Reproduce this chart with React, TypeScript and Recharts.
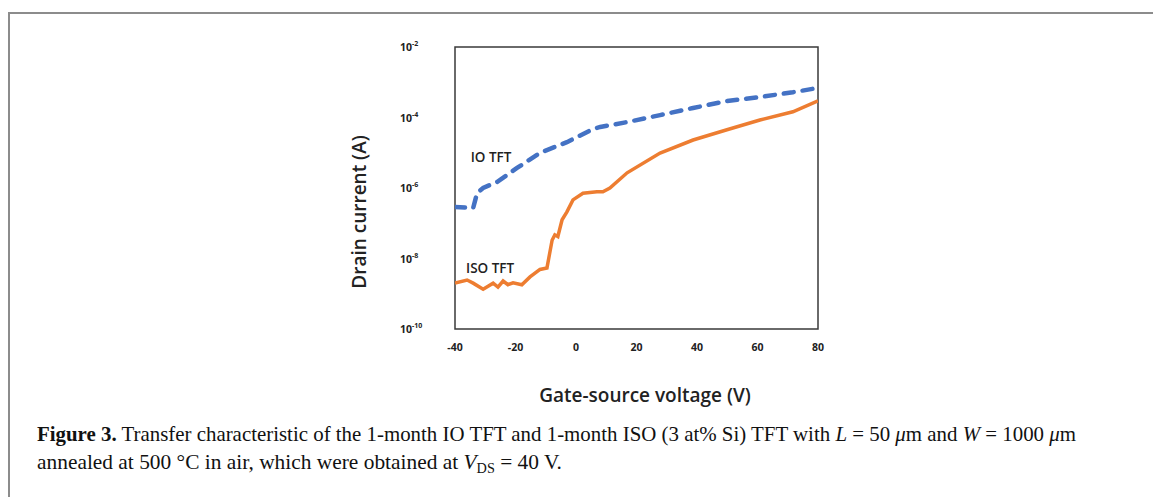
import {
  LineChart,
  Line,
  XAxis,
  YAxis,
  ReferenceArea,
  ReferenceDot,
} from 'recharts';

// gate-source voltage (V) / drain current (A)
const ioVgs = [-40, -34, -32.7, -30.7, -26, -19.5, -12, -3, 5.6, 8, 16.9, 27.8, 38.7, 50, 60.8, 71.7, 80];
const ioId = [2.9e-7, 2.7e-7, 7.2e-7, 1.0e-6, 1.5e-6, 3.7e-6, 9.8e-6, 2.0e-5, 4.7e-5, 5.4e-5, 7.4e-5, 1.17e-4, 1.86e-4, 2.95e-4, 3.8e-4, 5.2e-4, 6.9e-4];

const isoVgs = [-40, -36, -34, -30.7, -27.4, -25.8, -24.1, -22.5, -20.8, -17.9, -15.2, -11.9, -9.6, -7.9, -7, -6, -4.6, -3, -1, 2.3, 6.9, 8.9, 11.2, 16.9, 27.8, 38.7, 49.9, 60.8, 71.7, 80];
const isoId = [2.0e-9, 2.45e-9, 2.0e-9, 1.35e-9, 2.0e-9, 1.55e-9, 2.3e-9, 1.8e-9, 2.05e-9, 1.8e-9, 3.0e-9, 4.9e-9, 5.4e-9, 3.3e-8, 4.7e-8, 4.2e-8, 1.26e-7, 2.1e-7, 4.6e-7, 7.1e-7, 7.8e-7, 7.8e-7, 1.0e-6, 2.7e-6, 9.8e-6, 2.3e-5, 4.5e-5, 8.5e-5, 1.45e-4, 2.95e-4];

const xTicks = [-40, -20, 0, 20, 40, 60, 80];
const yExponents = [-10, -8, -6, -4, -2];
const yTicks = yExponents.map((e) => Math.pow(10, e));

const ioData = ioVgs.map((v, i) => ({ v, id: ioId[i] }));
const isoData = isoVgs.map((v, i) => ({ v, id: isoId[i] }));

const sans = '"Open Sans", sans-serif';
const serif = '"Liberation Serif", serif';

const YTick = ({ x, y, payload }: any) => {
  const exp = Math.round(Math.log10(payload.value));
  return (
    <text x={x - 47} y={y} dy={4} fontFamily={sans} fontWeight={700} fontSize={10.5} fill="#222">
      <tspan>10</tspan>
      <tspan dy={-5} fontSize={7}>{exp}</tspan>
    </text>
  );
};

const XTick = ({ x, y, payload }: any) => (
  <text x={x} y={y} dy={14} textAnchor="middle" fontFamily={sans} fontWeight={700} fontSize={10.5} fill="#222">
    {payload.value}
  </text>
);

export default function App() {
  return (
    <div style={{ position: 'absolute', left: 0, top: 0, width: 1153, height: 497, background: '#fff', overflow: 'hidden' }}>
      <div
        style={{
          position: 'absolute',
          left: 8,
          top: 12,
          width: 1160,
          height: 500,
          borderTop: '2px solid #8c8c8c',
          borderLeft: '2px solid #8c8c8c',
        }}
      />
      <LineChart
        width={1153}
        height={497}
        margin={{ top: 47, right: 335, bottom: 138, left: 395 }}
        style={{ position: 'absolute', left: 0, top: 0 }}
      >
        <XAxis
          dataKey="v"
          type="number"
          domain={[-40, 80]}
          ticks={xTicks}
          allowDataOverflow
          height={30}
          axisLine={false}
          tickLine={false}
          tick={<XTick />}
        />
        <YAxis
          dataKey="id"
          scale="log"
          domain={[1e-10, 1e-2]}
          ticks={yTicks}
          allowDataOverflow
          width={60}
          axisLine={false}
          tickLine={false}
          tick={<YTick />}
        />
        <ReferenceArea x1={-40} x2={80} y1={1e-10} y2={1e-2} fill="none" stroke="#3a3a3a" strokeWidth={1.5} />
        <Line
          data={isoData}
          dataKey="id"
          type="linear"
          stroke="#ED7D31"
          strokeWidth={3.5}
          dot={false}
          isAnimationActive={false}
        />
        <Line
          data={ioData}
          dataKey="id"
          type="linear"
          stroke="#4472C4"
          strokeWidth={4.5}
          strokeDasharray="10 9"
          strokeLinecap="round"
          dot={false}
          isAnimationActive={false}
        />
        <ReferenceDot
          x={-28.1}
          y={7.6e-6}
          r={0}
          label={{ value: 'IO TFT', position: 'center', fontFamily: sans, fontWeight: 600, fontSize: 13.5, fill: '#222' }}
        />
        <ReferenceDot
          x={-28.4}
          y={5.4e-9}
          r={0}
          label={{ value: 'ISO TFT', position: 'center', fontFamily: sans, fontWeight: 600, fontSize: 13.5, fill: '#222' }}
        />
      </LineChart>
      <div
        style={{
          position: 'absolute',
          left: 359,
          top: 212,
          transform: 'translate(-50%, -50%) rotate(-90deg)',
          whiteSpace: 'nowrap',
          fontFamily: sans,
          fontWeight: 600,
          fontSize: 19,
          color: '#222',
        }}
      >
        Drain current (A)
      </div>
      <div
        style={{
          position: 'absolute',
          left: 645,
          top: 395,
          transform: 'translate(-50%, -50%)',
          whiteSpace: 'nowrap',
          fontFamily: sans,
          fontWeight: 600,
          fontSize: 19,
          color: '#222',
        }}
      >
        Gate-source voltage (V)
      </div>
      <svg width={1153} height={497} style={{ position: 'absolute', left: 0, top: 0, pointerEvents: 'none' }}>
        <text
          x={37}
          y={441}
          fontFamily={serif}
          fontSize={21}
          fill="#111"
          textLength={1039}
          lengthAdjust="spacingAndGlyphs"
          xmlSpace="preserve"
        >
          <tspan fontWeight={700}>Figure 3.</tspan>
          {' Transfer characteristic of the 1-month IO TFT and 1-month ISO (3 at% Si) TFT with '}
          <tspan fontStyle="italic">L</tspan>
          {' = 50 '}
          <tspan fontStyle="italic">μ</tspan>
          {'m and '}
          <tspan fontStyle="italic">W</tspan>
          {' = 1000 '}
          <tspan fontStyle="italic">μ</tspan>
          {'m'}
        </text>
        <text
          x={37}
          y={469}
          fontFamily={serif}
          fontSize={21}
          fill="#111"
          textLength={525}
          lengthAdjust="spacingAndGlyphs"
          xmlSpace="preserve"
        >
          {'annealed at 500 °C in air, which were obtained at '}
          <tspan fontStyle="italic">V</tspan>
          <tspan fontSize={14} dy={4}>DS</tspan>
          <tspan dy={-4}>{' = 40 V.'}</tspan>
        </text>
      </svg>
    </div>
  );
}
